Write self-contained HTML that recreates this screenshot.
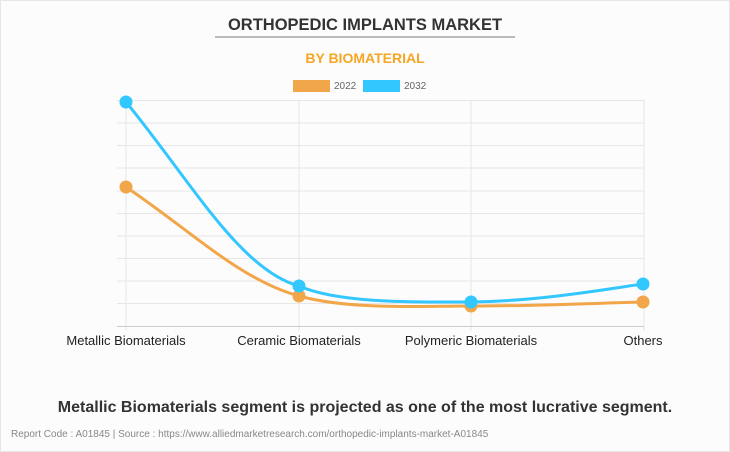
<!DOCTYPE html>
<html><head><meta charset="utf-8"><style>
body{margin:0;width:730px;height:452px;background:#fff;font-family:"Liberation Sans",sans-serif;overflow:hidden}
.frame{position:absolute;left:0;top:0;width:728px;height:450px;border:1px solid #e6e6e6;background:#fdfcfc}
</style></head><body><div class="frame"></div>
<svg width="730" height="452" style="position:absolute;left:0;top:0" font-family="Liberation Sans, sans-serif">
<text x="365" y="30" text-anchor="middle" font-size="16.5" font-weight="bold" fill="#333">ORTHOPEDIC IMPLANTS MARKET</text>
<line x1="215" y1="37" x2="515" y2="37" stroke="#777" stroke-width="1"/>
<text x="365" y="63" text-anchor="middle" font-size="14" font-weight="bold" fill="#f5a623">BY BIOMATERIAL</text>
<rect x="293" y="80" width="37" height="12" fill="#f2a64a"/>
<text x="334" y="89" font-size="10" fill="#666">2022</text>
<rect x="363" y="80" width="37" height="12" fill="#33c7ff"/>
<text x="404" y="89" font-size="10" fill="#666">2032</text>
<g stroke="#e6e6e6" stroke-width="1">
<line x1="117" y1="100.5" x2="644" y2="100.5"/><line x1="117" y1="123" x2="644" y2="123"/>
<line x1="117" y1="145.5" x2="644" y2="145.5"/><line x1="117" y1="168" x2="644" y2="168"/>
<line x1="117" y1="191" x2="644" y2="191"/><line x1="117" y1="213.5" x2="644" y2="213.5"/>
<line x1="117" y1="236" x2="644" y2="236"/><line x1="117" y1="258.5" x2="644" y2="258.5"/>
<line x1="117" y1="281" x2="644" y2="281"/><line x1="117" y1="303.5" x2="644" y2="303.5"/>
<line x1="126" y1="100" x2="126" y2="331"/><line x1="299" y1="100" x2="299" y2="331"/>
<line x1="471" y1="100" x2="471" y2="331"/><line x1="644" y1="100" x2="644" y2="331"/>
</g>
<line x1="117" y1="326.5" x2="644" y2="326.5" stroke="#ccc"/>
<path d="M126,187 C190,230 240,280 299,296 C350,310 420,306 471,306 C540,306 600,303 643,302" fill="none" stroke="#f2a64a" stroke-width="3"/>
<path d="M126,102 C190,180 240,270 299,286 C340,304 420,302 471,302 C540,301 600,290 643,284" fill="none" stroke="#33c7ff" stroke-width="3"/>
<g fill="#f2a64a"><circle cx="126" cy="187" r="6.5"/><circle cx="299" cy="296" r="6.5"/><circle cx="471" cy="306" r="6.5"/><circle cx="643" cy="302" r="6.5"/></g>
<g fill="#33c7ff"><circle cx="126" cy="102" r="6.5"/><circle cx="299" cy="286" r="6.5"/><circle cx="471" cy="302" r="6.5"/><circle cx="643" cy="284" r="6.5"/></g>
<g font-size="13" fill="#222" text-anchor="middle">
<text x="126" y="345">Metallic Biomaterials</text><text x="299" y="345">Ceramic Biomaterials</text>
<text x="471" y="345">Polymeric Biomaterials</text><text x="643" y="345">Others</text></g>
<text x="365" y="412" text-anchor="middle" font-size="16" font-weight="bold" fill="#333">Metallic Biomaterials segment is projected as one of the most lucrative segment.</text>
<text x="11" y="437" font-size="10" fill="#888">Report Code : A01845  |  Source : https://www.alliedmarketresearch.com/orthopedic-implants-market-A01845</text>
</svg></body></html>
